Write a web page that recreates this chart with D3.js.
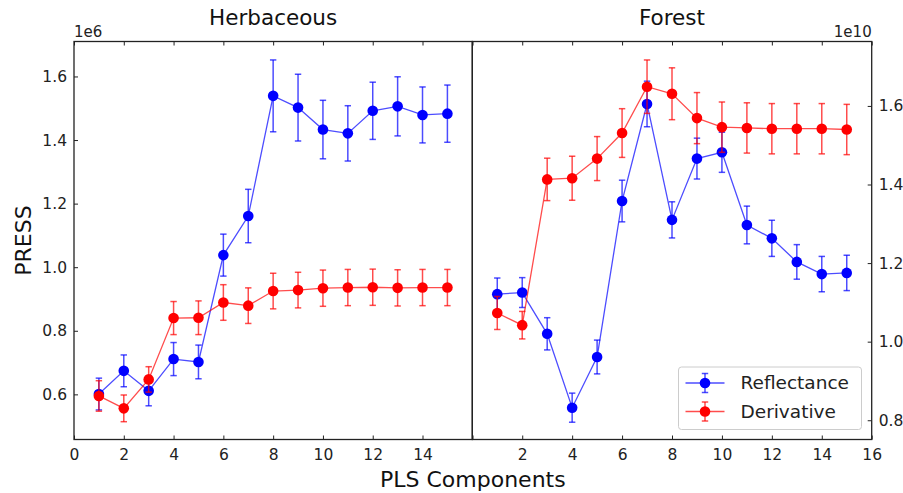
<!DOCTYPE html>
<html>
<head>
<meta charset="utf-8">
<script src="https://cdn.jsdelivr.net/npm/d3@7"></script>
<style>
  body { margin: 0; background: #fff; }
  svg { font-family: "DejaVu Sans", sans-serif; }
</style>
</head>
<body>
<script>
"use strict";

// PLS components on the x axis
const components = [1, 2, 3, 4, 5, 6, 7, 8, 9, 10, 11, 12, 13, 14, 15];

// Herbaceous PRESS, in units of 1e6
const herbRefl = [0.601, 0.674, 0.611, 0.711, 0.702, 1.038, 1.161, 1.539, 1.502, 1.433, 1.421, 1.492, 1.506, 1.479, 1.483];
const herbReflErr = [0.050, 0.050, 0.047, 0.052, 0.053, 0.066, 0.084, 0.113, 0.105, 0.092, 0.087, 0.090, 0.093, 0.088, 0.090];
const herbDeriv = [0.595, 0.556, 0.647, 0.840, 0.841, 0.889, 0.879, 0.925, 0.928, 0.934, 0.936, 0.937, 0.935, 0.936, 0.936];
const herbDerivErr = [0.048, 0.042, 0.040, 0.052, 0.053, 0.056, 0.056, 0.056, 0.056, 0.057, 0.057, 0.057, 0.057, 0.057, 0.057];

// Forest PRESS, in units of 1e10
const forestRefl = [1.121, 1.125, 1.020, 0.832, 0.961, 1.358, 1.605, 1.310, 1.466, 1.482, 1.297, 1.263, 1.203, 1.172, 1.175];
const forestReflErr = [0.041, 0.038, 0.041, 0.037, 0.043, 0.053, 0.058, 0.046, 0.052, 0.051, 0.048, 0.046, 0.044, 0.045, 0.045];
const forestDeriv = [1.073, 1.042, 1.413, 1.416, 1.466, 1.531, 1.649, 1.631, 1.569, 1.546, 1.544, 1.542, 1.542, 1.542, 1.540];
const forestDerivErr = [0.042, 0.035, 0.054, 0.056, 0.056, 0.062, 0.068, 0.066, 0.065, 0.064, 0.064, 0.064, 0.064, 0.064, 0.064];

const xTicks = [0, 2, 4, 6, 8, 10, 12, 14, 16];
const herbYTicks = [0.6, 0.8, 1.0, 1.2, 1.4, 1.6];
const forestYTicks = [0.8, 1.0, 1.2, 1.4, 1.6];

const seriesNames = ["Reflectance", "Derivative"];
const seriesColors = ["#0000ff", "#ff0000"];

const W = 903, H = 493;
const plotTop = 41.5, plotBottom = 439.5;
const panelLeft = 74, panelMid = 472.3, panelRight = 871.7;

const svg = d3.select("body").append("svg")
    .attr("width", W)
    .attr("height", H);

function drawPanel(opts) {
    const x = d3.scaleLinear().domain([0, 16]).range([opts.x0, opts.x1]);
    const y = d3.scaleLinear().domain(opts.yDomain).range([plotBottom, plotTop]);
    const g = svg.append("g");

    // inward ticks, bottom with labels, top without
    const xb = g.append("g")
        .attr("transform", `translate(0,${plotBottom})`)
        .call(d3.axisBottom(x).tickValues(xTicks).tickSize(-4).tickSizeOuter(0).tickPadding(9)
            .tickFormat(d => opts.xLabels.includes(d) ? d : ""));
    const xt = g.append("g")
        .attr("transform", `translate(0,${plotTop})`)
        .call(d3.axisTop(x).tickValues(xTicks).tickSize(-4).tickSizeOuter(0).tickFormat(""));

    const yAxis = opts.ySide === "left" ? d3.axisLeft(y) : d3.axisRight(y);
    const ya = g.append("g")
        .attr("transform", `translate(${opts.ySide === "left" ? opts.x0 : opts.x1},0)`)
        .call(yAxis.tickValues(opts.yTicks).tickSize(-4).tickSizeOuter(0).tickPadding(7)
            .tickFormat(d3.format(".1f")));

    [xb, xt, ya].forEach(a => {
        a.select(".domain").remove();
        a.selectAll("line").attr("stroke", "#222").attr("stroke-width", 1);
        a.selectAll("text").attr("font-size", 15.5).attr("fill", "#222")
            .attr("font-family", "DejaVu Sans, sans-serif");
    });

    g.append("rect")
        .attr("x", opts.x0).attr("y", plotTop)
        .attr("width", opts.x1 - opts.x0).attr("height", plotBottom - plotTop)
        .attr("fill", "none").attr("stroke", "#222").attr("stroke-width", 1.3);

    opts.series.forEach((s, i) => {
        const color = seriesColors[i];
        const pts = components.map((c, k) => ({ c: c, v: s.values[k], e: s.errs[k] }));
        const sg = g.append("g");

        sg.append("path")
            .datum(pts)
            .attr("fill", "none")
            .attr("stroke", color)
            .attr("stroke-opacity", 0.7)
            .attr("stroke-width", 1.3)
            .attr("d", d3.line().x(d => x(d.c)).y(d => y(d.v)));

        const bars = sg.selectAll(".err")
            .data(pts)
            .enter().append("g")
            .attr("stroke", color)
            .attr("stroke-opacity", 0.7)
            .attr("stroke-width", 1.5);
        bars.append("line")
            .attr("x1", d => x(d.c)).attr("x2", d => x(d.c))
            .attr("y1", d => y(d.v - d.e)).attr("y2", d => y(d.v + d.e));
        bars.append("line")
            .attr("x1", d => x(d.c) - 3.2).attr("x2", d => x(d.c) + 3.2)
            .attr("y1", d => y(d.v + d.e)).attr("y2", d => y(d.v + d.e));
        bars.append("line")
            .attr("x1", d => x(d.c) - 3.2).attr("x2", d => x(d.c) + 3.2)
            .attr("y1", d => y(d.v - d.e)).attr("y2", d => y(d.v - d.e));

        sg.selectAll("circle")
            .data(pts)
            .enter().append("circle")
            .attr("cx", d => x(d.c))
            .attr("cy", d => y(d.v))
            .attr("r", 5.3)
            .attr("fill", color);
    });

    svg.append("text")
        .attr("x", (opts.x0 + opts.x1) / 2)
        .attr("y", 25)
        .attr("text-anchor", "middle")
        .attr("font-size", 21.5)
        .attr("fill", "#111")
        .text(opts.title);

    svg.append("text")
        .attr("x", opts.ySide === "left" ? opts.x0 : opts.x1)
        .attr("y", 36.5)
        .attr("text-anchor", opts.ySide === "left" ? "start" : "end")
        .attr("font-size", 15)
        .attr("fill", "#222")
        .text(opts.offset);

    return { x: x, y: y };
}

drawPanel({
    x0: panelLeft, x1: panelMid,
    yDomain: [0.458, 1.710], yTicks: herbYTicks, ySide: "left",
    xLabels: [0, 2, 4, 6, 8, 10, 12, 14],
    title: "Herbaceous", offset: "1e6",
    series: [
        { values: herbRefl, errs: herbReflErr },
        { values: herbDeriv, errs: herbDerivErr }
    ]
});

drawPanel({
    x0: panelMid, x1: panelRight,
    yDomain: [0.751, 1.764], yTicks: forestYTicks, ySide: "right",
    xLabels: [2, 4, 6, 8, 10, 12, 14, 16],
    title: "Forest", offset: "1e10",
    series: [
        { values: forestRefl, errs: forestReflErr },
        { values: forestDeriv, errs: forestDerivErr }
    ]
});

// legend in the lower right of the forest panel
const legend = svg.append("g").attr("transform", "translate(678.5,367)");
legend.append("rect")
    .attr("width", 183).attr("height", 62.5)
    .attr("rx", 3)
    .attr("fill", "#fff").attr("fill-opacity", 0.8)
    .attr("stroke", "#ccc").attr("stroke-width", 1);
seriesNames.forEach((name, i) => {
    const cy = 16 + i * 28.5;
    const row = legend.append("g").attr("stroke", seriesColors[i]).attr("stroke-opacity", 0.7);
    row.append("line").attr("x1", 7).attr("x2", 46).attr("y1", cy).attr("y2", cy).attr("stroke-width", 1.3);
    row.append("line").attr("x1", 26.5).attr("x2", 26.5).attr("y1", cy - 9.5).attr("y2", cy + 9.5).attr("stroke-width", 1.5);
    row.append("line").attr("x1", 23.3).attr("x2", 29.7).attr("y1", cy - 9.5).attr("y2", cy - 9.5).attr("stroke-width", 1.5);
    row.append("line").attr("x1", 23.3).attr("x2", 29.7).attr("y1", cy + 9.5).attr("y2", cy + 9.5).attr("stroke-width", 1.5);
    legend.append("circle").attr("cx", 26.5).attr("cy", cy).attr("r", 5.3).attr("fill", seriesColors[i]);
    legend.append("text")
        .attr("x", 62).attr("y", cy)
        .attr("dy", "0.35em")
        .attr("font-size", 18.5)
        .attr("fill", "#222")
        .text(name);
});

// axis labels
svg.append("text")
    .attr("x", (panelLeft + panelRight) / 2)
    .attr("y", 487)
    .attr("text-anchor", "middle")
    .attr("font-size", 22)
    .attr("fill", "#111")
    .text("PLS Components");

svg.append("text")
    .attr("transform", `translate(31,${(plotTop + plotBottom) / 2})rotate(-90)`)
    .attr("text-anchor", "middle")
    .attr("font-size", 22)
    .attr("fill", "#111")
    .text("PRESS");
</script>
</body>
</html>
